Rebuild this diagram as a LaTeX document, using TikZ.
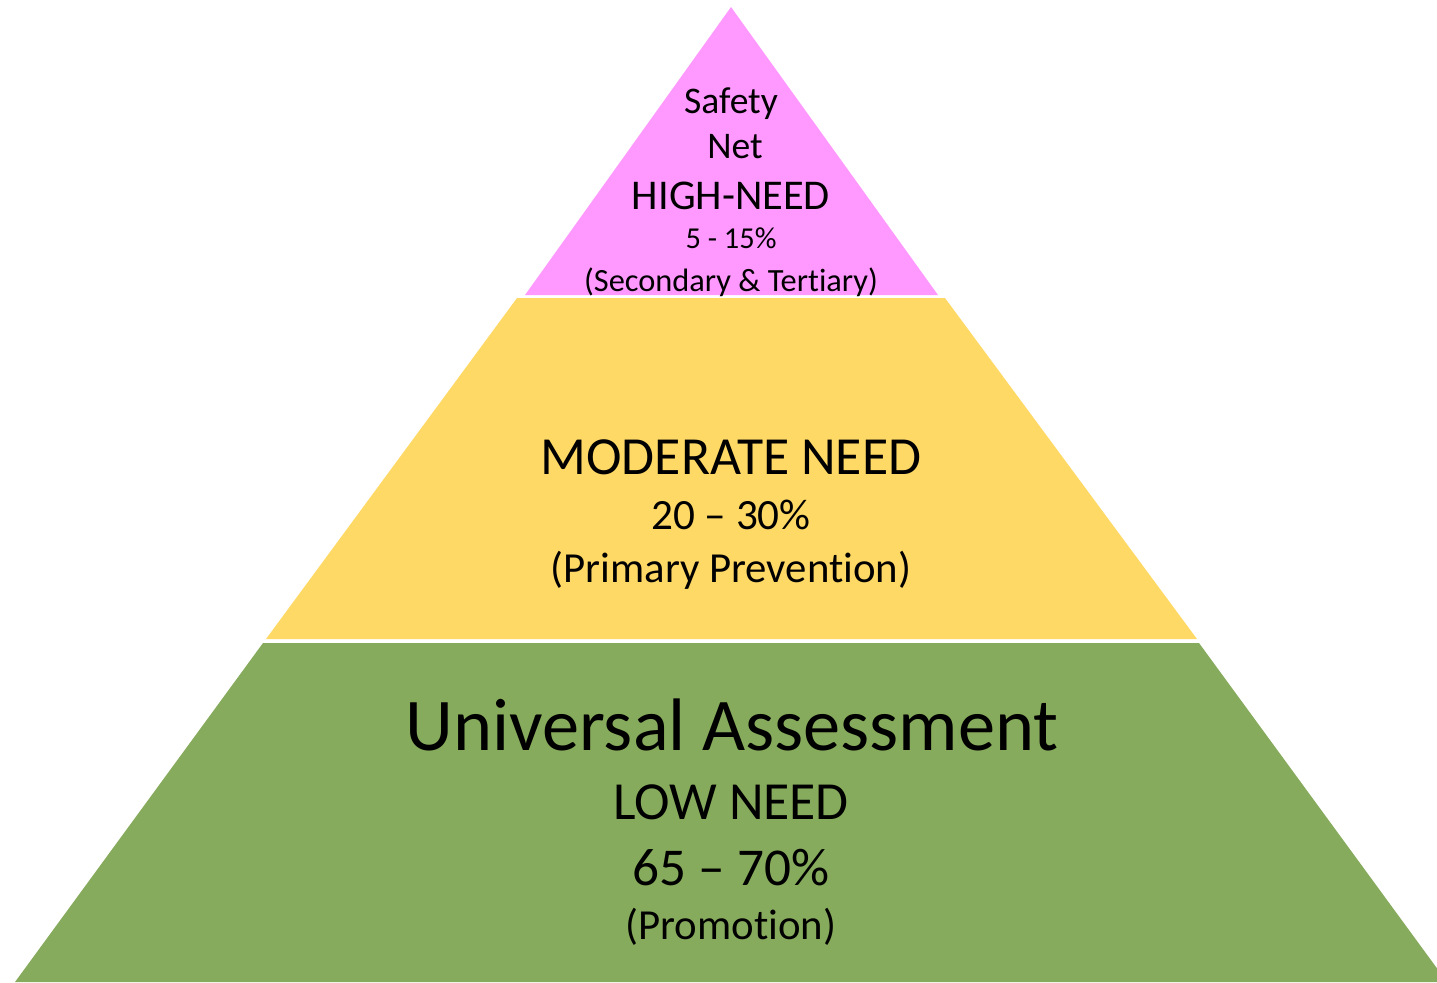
\documentclass[tikz,border=0pt]{standalone}
\usepackage{fontspec}
\setmainfont{Carlito}[RawFeature={-liga;-clig}]
\definecolor{tierpink}{HTML}{FF99FF}
\definecolor{tieryellow}{HTML}{FFD966}
\definecolor{tiergreen}{HTML}{87AB5C}
\newcommand{\fsz}[1]{\fontsize{#1}{#1}\selectfont}
\begin{document}
\begin{tikzpicture}[x=0.5pt,y=-0.5pt,
  lbl/.style={anchor=base,inner sep=0pt,text=black}]
\useasboundingbox (0,0) rectangle (1437,982);
\clip (0,0) rectangle (1437,982);
% tiers
\fill[tierpink] (731,7) -- (938,295) -- (525,295) -- cycle;
\fill[tieryellow] (517,298) -- (945,298) -- (1197,639) -- (266,639) -- cycle;
\fill[tiergreen] (263,643) -- (1199,643) -- (1447,982) -- (15,982) -- cycle;
% top tier text
\node[lbl] (safety) at (731,113) {\fsz{18.8pt}Safety};
\node[lbl] (net) at (735,158) {\fsz{18.8pt}Net};
\node[lbl] (high) at (731,209) {\fsz{21.2pt}HIGH-NEED};
\node[lbl] (pcthigh) at (731,248) {\fsz{15.2pt}5 - 15\%};
\begin{scope}
\clip (400,250) rectangle (1000,296);
\node[lbl] (sec) at (731,291) {\fsz{16.2pt}(Secondary \& Tertiary)};
\end{scope}
% middle tier text
\node[lbl] (mod) at (731,474) {\fsz{26.8pt}MODERATE NEED};
\node[lbl] (pctmod) at (731,529) {\fsz{21.6pt}20 – 30\%};
\node[lbl] (prim) at (731,582) {\fsz{21.4pt}(Primary Prevention)};
% bottom tier text
\node[lbl] (univ) at (732,750) {\fsz{37.2pt}Universal Assessment};
\node[lbl] (low) at (731,819) {\fsz{26.8pt}LOW NEED};
\node[lbl] (pctlow) at (731,885) {\fsz{26.6pt}65 – 70\%};
\node[lbl] (promo) at (731,939) {\fsz{21.4pt}(Promotion)};
\end{tikzpicture}
\end{document}
